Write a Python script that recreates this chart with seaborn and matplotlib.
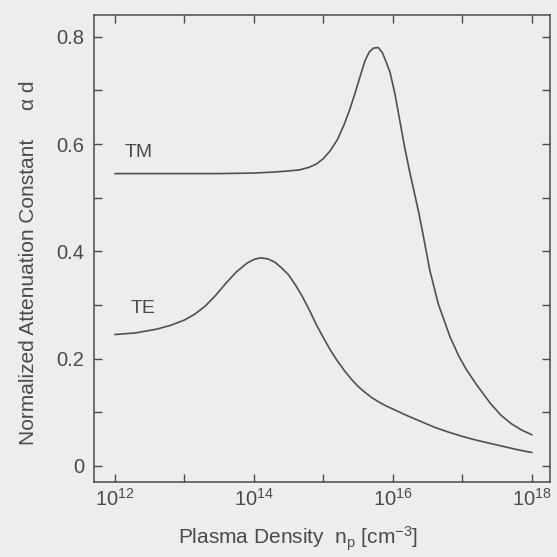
import numpy as np
import pandas as pd
import matplotlib
matplotlib.use("Agg")
import matplotlib.pyplot as plt
import matplotlib.ticker as mticker
import seaborn as sns

# log10 of plasma density [cm^-3] and normalized attenuation constant (alpha*d)
te_logn = [12.0, 12.3, 12.6, 12.8, 13.0, 13.15, 13.3, 13.45, 13.6, 13.75, 13.9, 14.0,
           14.1, 14.2, 14.3, 14.4, 14.5, 14.6, 14.7, 14.8, 14.9, 15.0, 15.1, 15.2,
           15.3, 15.4, 15.5, 15.6, 15.7, 15.8, 15.9, 16.0, 16.2, 16.4, 16.6, 16.8,
           17.0, 17.2, 17.4, 17.6, 17.8, 18.0]
te_alpha = [0.245, 0.248, 0.255, 0.262, 0.272, 0.283, 0.298, 0.318, 0.341, 0.362, 0.378, 0.385,
            0.388, 0.386, 0.380, 0.369, 0.356, 0.337, 0.315, 0.290, 0.263, 0.239, 0.216, 0.196,
            0.178, 0.162, 0.148, 0.137, 0.127, 0.119, 0.112, 0.106, 0.094, 0.083, 0.072, 0.063,
            0.055, 0.048, 0.042, 0.036, 0.030, 0.025]

tm_logn = [12.0, 12.5, 13.0, 13.5, 14.0, 14.3, 14.5, 14.66, 14.8, 14.9, 15.0, 15.1,
           15.2, 15.3, 15.38, 15.45, 15.53, 15.6, 15.66, 15.72, 15.79, 15.85, 15.9, 15.96,
           16.03, 16.1, 16.17, 16.24, 16.3, 16.37, 16.44, 16.53, 16.65, 16.82, 16.95, 17.06,
           17.2, 17.4, 17.55, 17.7, 17.85, 18.0]
tm_alpha = [0.545, 0.545, 0.545, 0.545, 0.546, 0.548, 0.550, 0.552, 0.557, 0.563, 0.573, 0.588,
            0.608, 0.637, 0.665, 0.693, 0.727, 0.756, 0.772, 0.779, 0.780, 0.770, 0.754, 0.733,
            0.693, 0.643, 0.593, 0.549, 0.514, 0.473, 0.427, 0.365, 0.303, 0.241, 0.204, 0.179,
            0.152, 0.117, 0.095, 0.079, 0.067, 0.058]

y_major = [0, 0.2, 0.4, 0.6, 0.8]
y_labels = ["0", "0.2", "0.4", "0.6", "0.8"]
y_minor = [0.1, 0.3, 0.5, 0.7]
x_major_exp = [12, 14, 16, 18]
x_minor_exp = [13, 15, 17]

sns.set_theme(style="ticks")
plt.rcParams["font.family"] = ["Liberation Sans", "DejaVu Sans"]
plt.rcParams["mathtext.fontset"] = "custom"
plt.rcParams["mathtext.rm"] = "Liberation Sans"
plt.rcParams["mathtext.it"] = "Liberation Sans"

bg = "#ededed"
ink = "#4a4a4a"

df = pd.concat([
    pd.DataFrame({"n": 10.0 ** np.array(te_logn), "alpha": te_alpha, "mode": "TE"}),
    pd.DataFrame({"n": 10.0 ** np.array(tm_logn), "alpha": tm_alpha, "mode": "TM"}),
])

fig = plt.figure(figsize=(5.57, 5.57), dpi=100, facecolor=bg)
ax = fig.add_axes([0.1688, 0.1346, 0.8187, 0.8384])
ax.set_facecolor(bg)

for mode in ["TE", "TM"]:
    sns.lineplot(data=df[df["mode"] == mode], x="n", y="alpha", ax=ax,
                 color="#505050", linewidth=1.2, legend=False)

ax.set_xscale("log")
ax.set_xlim(10 ** 11.7, 10 ** 18.26)
ax.set_ylim(-0.030, 0.8406)

ax.xaxis.set_major_locator(mticker.FixedLocator([10.0 ** e for e in x_major_exp]))
ax.xaxis.set_minor_locator(mticker.FixedLocator([10.0 ** e for e in x_minor_exp]))
ax.set_xticklabels([f"$10^{{{e}}}$" for e in x_major_exp])
ax.xaxis.set_minor_formatter(mticker.NullFormatter())
ax.set_yticks(y_major)
ax.set_yticklabels(y_labels)
ax.set_yticks(y_minor, minor=True)

ax.tick_params(which="both", direction="in", top=True, right=True, length=6,
               width=1.0, color=ink, labelcolor=ink, labelsize=14.5)
ax.tick_params(axis="y", pad=7)
ax.tick_params(axis="x", pad=4)
for s in ax.spines.values():
    s.set_color(ink)
    s.set_linewidth(1.1)

ax.text(10 ** 12.14, 0.585, "TM", fontsize=14, color=ink, va="center", ha="left")
ax.text(10 ** 12.22, 0.293, "TE", fontsize=14, color=ink, va="center", ha="left")

ax.set_xlabel("Plasma Density  n$_\\mathrm{p}$ [cm$^{-3}$]", fontsize=15, color=ink)
ax.set_ylabel("Normalized Attenuation Constant     \u03b1 d", fontsize=15, color=ink)
ax.xaxis.set_label_coords(0.447, -0.092)
ax.yaxis.set_label_coords(-0.123, 0.469)

fig.savefig("out.png", dpi=100, facecolor=bg)
